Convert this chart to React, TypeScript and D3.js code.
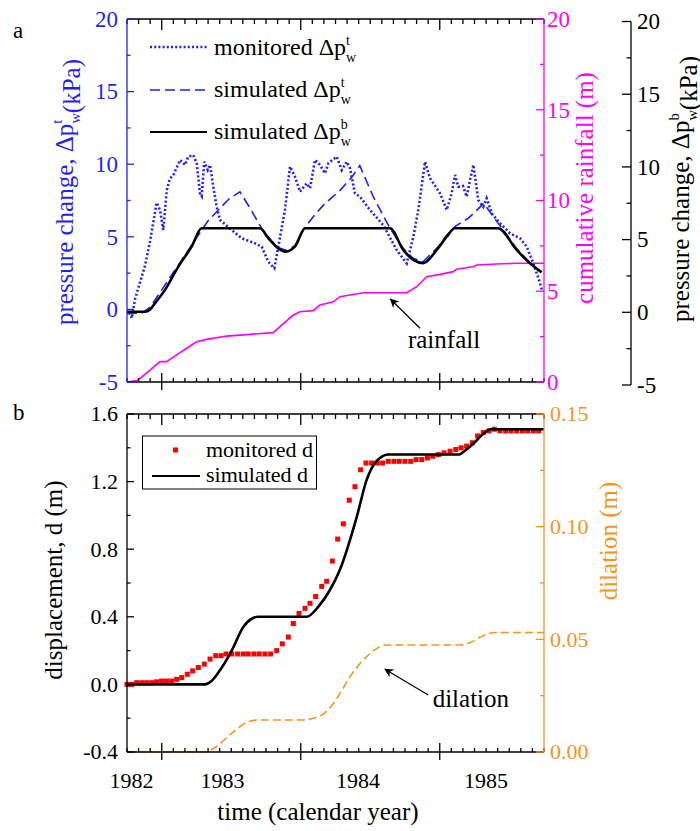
import React from "react";
import * as d3 from "d3";

// time axis is in months from the start of the record
const monthMajor = [3, 15, 27];
const yearLabels = ["1982", "1983", "1984", "1985"];
const yearLabelMonth = [0.39, 8.24, 19.94, 31.0];

// panel a: monitored pore pressure change at the top (kPa)
const monPtT = [0.2, 0.41, 0.69, 1.55, 1.99, 2.56, 2.85, 3.13, 3.43, 3.7, 4.0, 4.58, 5.01, 5.29, 5.72, 6.02, 6.3, 6.45, 6.67, 6.97, 7.17, 7.45, 7.74, 8.03, 9.04, 9.9, 11.05, 11.63, 12.2, 12.72, 13.06, 13.64, 14.07, 14.5, 14.94, 15.51, 15.8, 16.23, 16.66, 17.09, 17.38, 18.1, 18.54, 18.97, 19.25, 19.68, 20.11, 20.98, 22.13, 23.28, 24.15, 24.72, 25.15, 25.73, 26.16, 27.02, 27.6, 28.03, 28.32, 28.6, 29.0, 29.33, 29.61, 29.9, 30.33, 30.76, 31.05, 31.49, 32.2, 33.07, 33.93, 34.51, 35.08, 35.66, 35.83];
const monPtV = [-0.2, -0.61, 0.7, 3.0, 4.7, 7.35, 6.85, 5.47, 8.2, 9.0, 9.26, 10.29, 9.95, 10.52, 10.63, 10.06, 8.0, 7.8, 10.17, 9.6, 9.95, 8.45, 7.07, 6.16, 5.47, 4.9, 4.55, 4.32, 3.28, 2.83, 4.32, 6.85, 9.83, 9.14, 8.1, 8.68, 8.34, 10.29, 9.95, 9.37, 10.06, 10.52, 9.6, 10.17, 9.72, 8.0, 7.76, 6.85, 5.8, 4.09, 3.17, 5.0, 6.85, 10.17, 9.03, 8.0, 6.85, 8.0, 9.26, 8.45, 8.5, 7.76, 8.9, 9.95, 7.53, 7.07, 7.65, 6.62, 5.93, 5.24, 4.9, 4.32, 3.17, 1.8, 1.3];

// simulated pressure change at the top (left axis)
const simPtT = [0, 1.3, 2.0, 2.42, 4.14, 6.16, 7.0, 7.89, 8.8, 9.75, 10.6, 11.63, 12.5, 13.1, 13.8, 14.5, 15.4, 16.3, 17.1, 18.4, 19.4, 20.1, 21.26, 22.7, 23.85, 24.72, 25.58, 26.74, 27.6, 28.3, 29.5, 30.8, 32.03, 33.64, 34.79, 35.8];
const simPtV = [-0.3, -0.25, 0.15, 0.65, 2.71, 5.12, 6.1, 6.85, 7.6, 8.1, 7.0, 5.58, 4.7, 4.25, 4.05, 4.4, 5.7, 6.6, 7.3, 8.2, 9.1, 9.9, 7.76, 5.6, 4.2, 3.5, 3.3, 4.2, 5.1, 5.7, 6.3, 7.3, 5.95, 4.2, 3.2, 2.5];

// simulated pressure change at the bottom (far right axis)
const simPbT = [0, 1.55, 2.0, 2.42, 3.28, 4.43, 5.58, 6.45, 11.48, 12.2, 13.06, 13.64, 14.5, 15.37, 22.7, 23.85, 24.72, 25.58, 26.74, 27.6, 28.3, 32.03, 33.64, 34.79, 35.8];
const simPbV = [0.04, 0.04, 0.2, 0.62, 1.54, 3.14, 4.52, 5.78, 5.78, 5.1, 4.4, 4.17, 4.52, 5.78, 5.78, 4.29, 3.6, 3.38, 4.29, 5.2, 5.78, 5.78, 4.29, 3.37, 2.75];

// cumulative rainfall (m)
const rainT = [0, 0.95, 1.99, 2.85, 3.43, 4.29, 5.15, 6.02, 6.88, 8.61, 10.9, 12.63, 13.21, 14.36, 14.94, 16.08, 16.66, 17.81, 18.39, 19.25, 20.4, 24.15, 25.01, 25.87, 27.02, 28.17, 28.46, 29.9, 30.19, 31.92, 33.64, 36];
const rainV = [0, 0.1, 0.66, 1.12, 1.12, 1.49, 1.86, 2.22, 2.35, 2.53, 2.64, 2.72, 3.05, 3.69, 3.87, 3.93, 4.24, 4.42, 4.7, 4.79, 4.92, 4.92, 5.25, 5.8, 5.93, 6.08, 6.21, 6.35, 6.45, 6.5, 6.54, 6.54];

// panel b: monitored displacement (m)
const monDT = [0.0, 0.4, 0.83, 1.27, 1.7, 2.13, 2.56, 2.99, 3.42, 3.86, 4.29, 4.72, 5.21, 5.67, 6.16, 6.68, 7.17, 7.66, 8.12, 8.55, 9.04, 9.55, 10.04, 10.47, 10.96, 11.42, 11.91, 12.4, 12.92, 13.41, 13.93, 14.36, 14.85, 15.37, 15.8, 16.29, 16.81, 17.24, 17.73, 18.19, 18.68, 19.19, 19.68, 20.17, 20.63, 21.12, 21.61, 22.07, 22.56, 23.05, 23.51, 24.0, 24.49, 24.95, 25.44, 25.93, 26.39, 26.88, 27.37, 27.89, 28.38, 28.84, 29.32, 29.81, 30.27, 30.76, 31.25, 31.71, 32.2, 32.69, 33.15, 33.64, 34.13, 34.59, 35.08, 35.54];
const monDV = [0.0, 0.0, 0.01, 0.01, 0.01, 0.01, 0.015, 0.02, 0.02, 0.02, 0.03, 0.04, 0.06, 0.08, 0.1, 0.12, 0.15, 0.17, 0.17, 0.18, 0.18, 0.18, 0.18, 0.18, 0.18, 0.18, 0.18, 0.18, 0.2, 0.24, 0.28, 0.36, 0.42, 0.45, 0.48, 0.52, 0.58, 0.61, 0.73, 0.86, 0.95, 1.09, 1.17, 1.27, 1.31, 1.31, 1.31, 1.31, 1.32, 1.32, 1.32, 1.32, 1.32, 1.33, 1.33, 1.34, 1.35, 1.36, 1.37, 1.38, 1.39, 1.4, 1.41, 1.43, 1.47, 1.49, 1.5, 1.51, 1.5, 1.5, 1.5, 1.5, 1.5, 1.5, 1.5, 1.5];

// simulated displacement (m)
const simDT = [0, 6.73, 7.3, 7.89, 9.04, 10.04, 10.8, 11.34, 15.51, 16.52, 17.53, 18.39, 19.83, 20.69, 21.4, 21.84, 22.56, 28.6, 29.3, 29.98, 30.7, 31.4, 36];
const simDV = [0, 0, 0.02, 0.07, 0.2, 0.34, 0.39, 0.4, 0.4, 0.46, 0.56, 0.68, 0.99, 1.21, 1.31, 1.34, 1.36, 1.36, 1.39, 1.43, 1.48, 1.51, 1.51];

// dilation (m)
const dilT = [0, 6.73, 7.6, 9.04, 10.3, 11.34, 15.08, 16.8, 17.6, 18.39, 19.25, 20.69, 21.6, 22.41, 28.75, 29.6, 30.5, 31.2, 31.9, 36];
const dilV = [0, 0, 0.002, 0.0083, 0.013, 0.0142, 0.0142, 0.0164, 0.0201, 0.026, 0.0334, 0.0423, 0.046, 0.0475, 0.0475, 0.0485, 0.051, 0.0525, 0.053, 0.053];

const pTicks = [-5, 0, 5, 10, 15, 20];
const rainTicks = [0, 5, 10, 15, 20];
const dTicks = [-0.4, 0, 0.4, 0.8, 1.2, 1.6];
const dilTicks = [0, 0.05, 0.1, 0.15];

const BLUE = "#1f1fff";
const MAGENTA = "#ff00ff";
const ORANGE = "#f7941e";
const RED = "#ff0000";
const FONT = '"Liberation Serif"';

const L = 127;
const R = 544;

const x = d3.scaleLinear().domain([0, 36]).range([L, R]);
const yP = d3.scaleLinear().domain([-5, 20]).range([382, 19]);
const yRain = d3.scaleLinear().domain([0, 20]).range([382, 19]);
const yPb = d3.scaleLinear().domain([-5, 20]).range([385, 21.5]);
const yD = d3.scaleLinear().domain([-0.4, 1.6]).range([752, 414]);
const yDil = d3.scaleLinear().domain([0, 0.15]).range([752, 414]);

const path = (ts: number[], vs: number[], ys: d3.ScaleLinear<number, number>, curve: d3.CurveFactory = d3.curveLinear) =>
  d3.line<number>().x((t) => x(t)).y((_, i) => ys(vs[i])).curve(curve)(ts) || "";

const minors = (lo: number, hi: number, step: number, majors: number[]) =>
  d3.range(lo, hi + step / 2, step).filter((v) => !majors.some((m) => Math.abs(m - v) < step / 10));

// Δp with stacked super/subscript
const DeltaP = ({ sup, fs }: { sup: string; fs: number }) => {
  const s = fs * 0.58;
  const back = (sup === "t" ? 0.278 : 0.5) * s;
  return (
    <>
      <tspan>Δp</tspan>
      <tspan fontSize={s} dy={-0.42 * fs}>{sup}</tspan>
      <tspan fontSize={s} dx={-back} dy={0.72 * fs}>w</tspan>
      <tspan dy={-0.3 * fs}></tspan>
    </>
  );
};

const TimeTicks = ({ y0, y1 }: { y0: number; y1: number }) => (
  <g stroke="black" strokeWidth={1.3}>
    <line x1={L} x2={R} y1={y0} y2={y0} />
    <line x1={L} x2={R} y1={y1} y2={y1} />
    {minors(0, 36, 1, monthMajor).map((m) => (
      <g key={m}>
        <line x1={x(m)} x2={x(m)} y1={y0} y2={y0 + 5} />
        <line x1={x(m)} x2={x(m)} y1={y1} y2={y1 - 4} />
      </g>
    ))}
    {monthMajor.map((m) => (
      <g key={m}>
        <line x1={x(m)} x2={x(m)} y1={y0} y2={y0 + 11} />
        <line x1={x(m)} x2={x(m)} y1={y1 - 9} y2={y1 + 8} />
      </g>
    ))}
  </g>
);

const VAxis = ({ ax, ys, majors, step, dir, len, color, labelX, anchor, fmt, fs }: any) => {
  const [lo, hi] = ys.domain();
  const [b, t] = ys.range();
  return (
    <g>
      <line x1={ax} x2={ax} y1={b} y2={t} stroke={color} strokeWidth={1.3} />
      {majors.map((v: number) => (
        <g key={v}>
          <line x1={ax} x2={ax + dir * len} y1={ys(v)} y2={ys(v)} stroke={color} strokeWidth={1.3} />
          <text x={labelX} y={ys(v)} dy="0.34em" textAnchor={anchor} fill={color} fontSize={fs} style={{ fontFamily: FONT }}>{fmt(v)}</text>
        </g>
      ))}
      {minors(lo + step / 2, hi, step, majors).map((v: number) => (
        <line key={v} x1={ax} x2={ax + dir * len * 0.5} y1={ys(v)} y2={ys(v)} stroke={color} strokeWidth={1.3} />
      ))}
    </g>
  );
};

export default function App() {
  const f0 = d3.format("d");
  const f1 = d3.format(".1f");
  const f2 = d3.format(".2f");
  const fneg = (v: number) => (v < 0 ? "-" + f0(-v) : f0(v));
  const fneg1 = (v: number) => (v < 0 ? "-" + f1(-v) : f1(v));
  const tf = { fontFamily: FONT };

  return (
    <div style={{ position: "absolute", left: 0, top: 0 }}>
      <svg width={700} height={831} style={{ display: "block", background: "white" }}>
        <defs>
          <marker id="arr" viewBox="0 0 10 10" refX={9} refY={5} markerWidth={9} markerHeight={9} orient="auto" markerUnits="userSpaceOnUse">
            <path d="M0,0 L10,5 L0,10 L3,5 Z" fill="black" />
          </marker>
        </defs>

        {/* ---------- panel a ---------- */}
        <text x={13} y={38} fontSize={23} style={tf}>a</text>

        <path d={path(rainT, rainV, yRain)} fill="none" stroke={MAGENTA} strokeWidth={1.6} />
        <path d={path(simPtT, simPtV, yP)} fill="none" stroke={BLUE} strokeWidth={1.6} strokeDasharray="10 5" />
        <path d={path(monPtT, monPtV, yP)} fill="none" stroke={BLUE} strokeWidth={2.6} strokeDasharray="2 2.2" />
        <path d={path(simPbT, simPbV, yPb, d3.curveMonotoneX)} fill="none" stroke="black" strokeWidth={2.6} />

        <TimeTicks y0={19} y1={382} />
        <VAxis ax={L} ys={yP} majors={pTicks} step={5} dir={1} len={7} color={BLUE} labelX={118} anchor="end" fmt={fneg} fs={23} />
        <VAxis ax={R} ys={yRain} majors={rainTicks} step={5} dir={-1} len={8} color={MAGENTA} labelX={547} anchor="start" fmt={f0} fs={23} />
        <VAxis ax={631} ys={yPb} majors={pTicks} step={5} dir={-1} len={9} color="black" labelX={637} anchor="start" fmt={fneg} fs={23} />

        <text transform="translate(72.5,192) rotate(-90)" textAnchor="middle" fontSize={25} fill={BLUE} style={tf}>
          pressure change, <DeltaP sup="t" fs={25} />(kPa)
        </text>
        <text transform="translate(593,188) rotate(-90)" textAnchor="middle" fontSize={25} fill={MAGENTA} style={tf}>
          cumulative rainfall (m)
        </text>
        <text transform="translate(689,189) rotate(-90)" textAnchor="middle" fontSize={25} fill="black" style={tf}>
          pressure change, <DeltaP sup="b" fs={25} />(kPa)
        </text>

        {/* legend a */}
        <g fontSize={24} style={tf}>
          <line x1={150} x2={207} y1={47} y2={47} stroke={BLUE} strokeWidth={2.6} strokeDasharray="2 2.2" />
          <text x={214} y={55} style={tf}>monitored <DeltaP sup="t" fs={24} /></text>
          <line x1={150} x2={207} y1={90} y2={90} stroke={BLUE} strokeWidth={1.6} strokeDasharray="10 5" />
          <text x={214} y={97} style={tf}>simulated <DeltaP sup="t" fs={24} /></text>
          <line x1={150} x2={207} y1={132} y2={132} stroke="black" strokeWidth={2} />
          <text x={214} y={139} style={tf}>simulated <DeltaP sup="b" fs={24} /></text>
        </g>

        <line x1={x(25.3)} y1={yRain(2.96)} x2={x(22.75)} y2={yRain(4.56)} stroke="black" strokeWidth={1.2} markerEnd="url(#arr)" />
        <text x={x(27.37)} y={yRain(1.87)} textAnchor="middle" fontSize={25} style={tf}>rainfall</text>

        {/* ---------- panel b ---------- */}
        <text x={13} y={420} fontSize={23} style={tf}>b</text>

        <path d={path(dilT, dilV, yDil, d3.curveMonotoneX)} fill="none" stroke={ORANGE} strokeWidth={1.6} strokeDasharray="8 4" />
        {monDT.map((t, i) => (
          <rect key={i} x={x(t) - 2.5} y={yD(monDV[i]) - 2.5} width={5} height={5} fill={RED} />
        ))}
        <path d={path(simDT, simDV, yD, d3.curveMonotoneX)} fill="none" stroke="black" strokeWidth={2.6} />

        <TimeTicks y0={414} y1={752} />
        <VAxis ax={L} ys={yD} majors={dTicks} step={0.4} dir={1} len={7} color="black" labelX={118} anchor="end" fmt={fneg1} fs={22} />
        <VAxis ax={R} ys={yDil} majors={dilTicks} step={0.05} dir={-1} len={8} color={ORANGE} labelX={550} anchor="start" fmt={f2} fs={22} />

        {yearLabels.map((lab, i) => (
          <text key={lab} x={x(yearLabelMonth[i])} y={788} textAnchor="middle" fontSize={22} style={tf}>{lab}</text>
        ))}
        <text x={318} y={820} textAnchor="middle" fontSize={25} style={tf}>time (calendar year)</text>
        <text transform="translate(62,580) rotate(-90)" textAnchor="middle" fontSize={25} style={tf}>displacement, d (m)</text>
        <text transform="translate(617,541) rotate(-90)" textAnchor="middle" fontSize={25} fill={ORANGE} style={tf}>dilation (m)</text>

        {/* legend b */}
        <rect x={142.5} y={436} width={174} height={53} fill="white" stroke="black" strokeWidth={1} />
        <rect x={173} y={447.5} width={5} height={5} fill={RED} />
        <text x={206} y={457} fontSize={22} style={tf}>monitored d</text>
        <line x1={152} x2={200} y1={476} y2={476} stroke="black" strokeWidth={2} />
        <text x={206} y={482} fontSize={22} style={tf}>simulated d</text>

        <line x1={x(26.01)} y1={yDil(0.0253)} x2={x(22.27)} y2={yDil(0.0367)} stroke="black" strokeWidth={1.2} markerEnd="url(#arr)" />
        <text x={x(26.39)} y={yDil(0.0201)} fontSize={25} style={tf}>dilation</text>
      </svg>
    </div>
  );
}
